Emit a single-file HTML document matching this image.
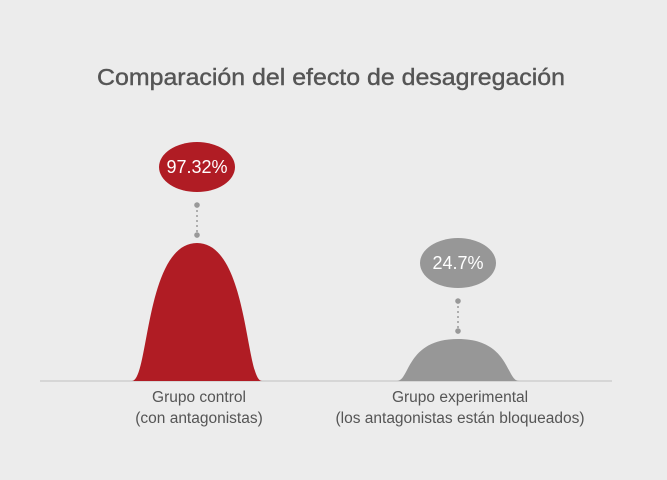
<!DOCTYPE html>
<html><head><meta charset="utf-8"><style>
body{margin:0;background:#ececec;}
svg{display:block;font-family:"Liberation Sans",sans-serif;}
</style></head><body>
<svg width="667" height="480">
<rect width="667" height="480" fill="#ececec"/>
<text x="331" y="85" text-anchor="middle" font-size="23" fill="#555" stroke="#555" stroke-width="0.4" textLength="468" lengthAdjust="spacingAndGlyphs">Comparación del efecto de desagregación</text>
<line x1="40" y1="381" x2="612" y2="381" stroke="#cfcfcf" stroke-width="1.5"/>
<g id="marks"></g>
</svg>
<script>
const categories=["Grupo control","Grupo experimental"];
const subLabels=["(con antagonistas)","(los antagonistas están bloqueados)"];
const values=[97.32,24.7];
const valueLabels=["97.32%","24.7%"];
const colors=["#b01c24","#979797"];
const centers=[197,458];
const base=381;
function yScale(v){return base-(9.3+1.322*v);}
const ns="http://www.w3.org/2000/svg";
const g=document.getElementById('marks');
function mk(t,a){const e=document.createElementNS(ns,t);for(const k in a)e.setAttribute(k,a[k]);g.appendChild(e);return e;}
values.forEach((v,i)=>{
  const cx=centers[i],top=yScale(v),hw=i==0?65:61;
  const p=mk('path',{d:`M${cx-hw},${base} C${cx-48},${base} ${cx-52},${top} ${cx},${top} C${cx+52},${top} ${cx+48},${base} ${cx+hw},${base} Z`,fill:colors[i]});
  
  
  const l=mk('line',{x1:cx,y1:top-38,x2:cx,y2:top-8,stroke:'#999','stroke-width':1.5,'stroke-dasharray':'2,3'});
  
  
  [top-38,top-8].forEach(y=>{const d=mk('circle',{cx:cx,cy:y,r:2.8,fill:'#999'});
    
    });
  const el=mk('ellipse',{cx:cx,cy:top-76,rx:38,ry:25,fill:colors[i]});
  
  
  const t=mk('text',{x:cx,y:top-70,'text-anchor':'middle','font-size':18,fill:'#fff'});
  t.textContent=valueLabels[i];
  
  
  const c1=mk('text',{x:cx+2,y:402,'text-anchor':'middle','font-size':15.5,fill:'#555'});
  c1.textContent=categories[i];
  
  
  const c2=mk('text',{x:cx+2,y:423,'text-anchor':'middle','font-size':15.5,fill:'#555'});
  c2.textContent=subLabels[i];
  
  
});
</script>
</body></html>
